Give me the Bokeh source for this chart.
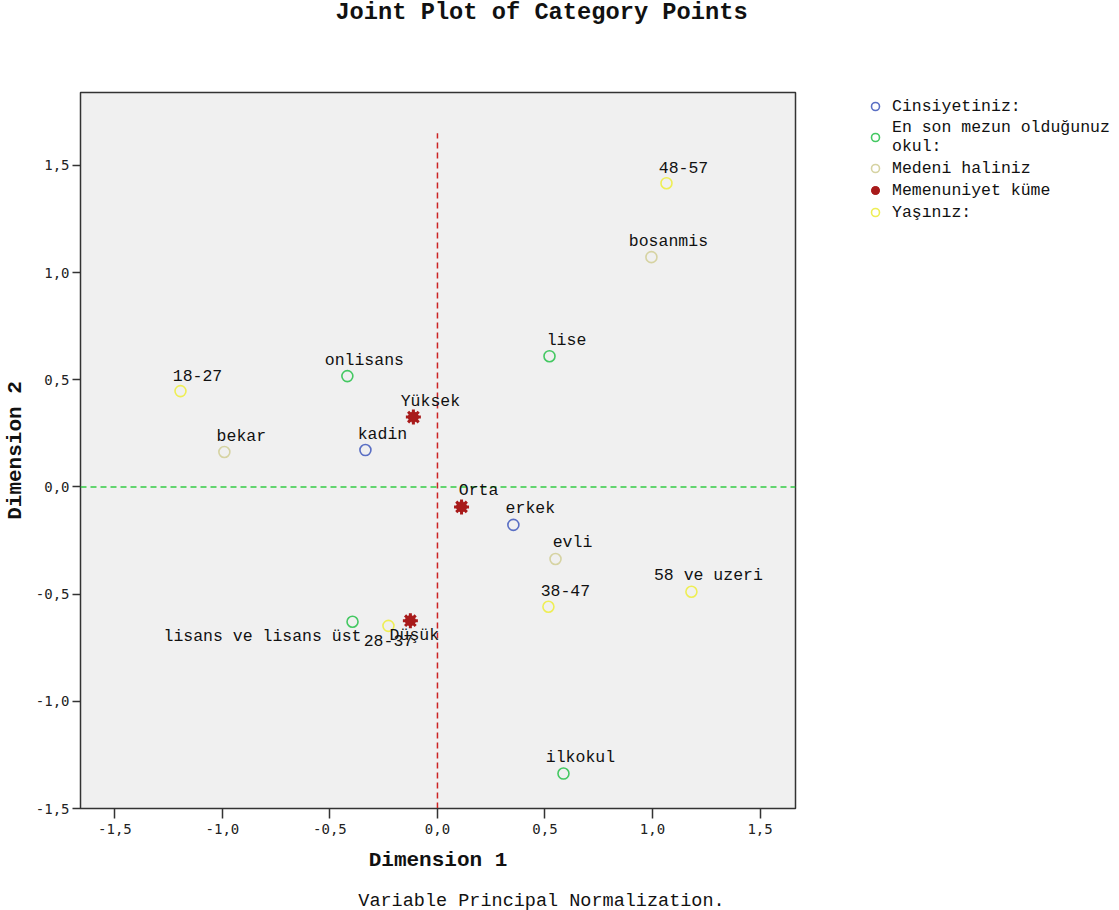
from bokeh.plotting import figure
from bokeh.models import (FixedTicker, CustomJSTickFormatter, Label, Legend, LegendItem,
                          Span, ColumnDataSource, Div)
from bokeh.layouts import column
from bokeh.embed import file_html
from bokeh.resources import INLINE

# ---- data ----
groups = ["Cinsiyetiniz:", "En son mezun olduğunuz\nokul:", "Medeni haliniz",
          "Memenuniyet küme", "Yaşınız:"]

cins_labels = ["kadin", "erkek"]
cins_x = [-0.335, 0.353]
cins_y = [0.172, -0.177]

okul_labels = ["onlisans", "lise", "lisans ve lisans üst", "ilkokul"]
okul_x = [-0.419, 0.521, -0.395, 0.586]
okul_y = [0.517, 0.610, -0.629, -1.337]

medeni_labels = ["bekar", "bosanmis", "evli"]
medeni_x = [-0.991, 0.995, 0.549]
medeni_y = [0.163, 1.072, -0.336]

kume_labels = ["Yüksek", "Orta", "Düşük"]
kume_x = [-0.112, 0.112, -0.126]
kume_y = [0.326, -0.093, -0.624]

yas_labels = ["18-27", "48-57", "38-47", "58 ve uzeri", "28-37"]
yas_x = [-1.195, 1.065, 0.516, 1.181, -0.228]
yas_y = [0.447, 1.417, -0.559, -0.489, -0.648]

ticks = [-1.5, -1.0, -0.5, 0.0, 0.5, 1.0, 1.5]

# ---- styles ----
FONT = "Liberation Mono"
colors = ["#5a6fc4", "#44c862", "#d6d3a2", "#a81a1a", "#eeee55"]
# label placement: (x_offset px, y_offset px, align)
default_place = (17, 16, "center")
special = {
    "lisans ve lisans üst": (9, -15, "right"),
    "28-37": (0, -15, "center"),
    "Düşük": (4, -15, "center"),
}

p = figure(output_backend="svg", toolbar_location=None,
           frame_width=715, frame_height=716,
           min_border_left=74, min_border_top=66, min_border_bottom=78,
           min_border_right=319,
           x_range=(-1.66, 1.665), y_range=(-1.5, 1.84),
           background_fill_color="#f0f0f0", border_fill_color="white",
           outline_line_color="#333333", outline_line_width=1.5)
p.grid.visible = False

fmt = CustomJSTickFormatter(code="return tick.toFixed(1).replace('.', ',');")
for ax in (p.xaxis[0], p.yaxis[0]):
    ax.ticker = FixedTicker(ticks=ticks)
    ax.formatter = fmt
    ax.minor_tick_line_color = None
    ax.major_label_text_font = "DejaVu Sans Mono"
    ax.major_label_text_font_size = "14px"
    ax.major_label_text_color = "#222222"
    ax.axis_line_color = "#333333"
    ax.major_tick_line_color = "#333333"
    ax.major_tick_line_width = 1.5
    ax.axis_label_text_font = FONT
    ax.axis_label_text_font_style = "bold"
    ax.axis_label_text_font_size = "21px"
    ax.axis_label_text_color = "#111111"

p.xaxis.major_tick_out = 10
p.xaxis.major_tick_in = 0
p.xaxis.major_label_standoff = 5
p.xaxis.axis_label = "Dimension 1"
p.xaxis.axis_label_standoff = 12
p.yaxis.major_tick_out = 8
p.yaxis.major_tick_in = 0
p.yaxis.major_label_standoff = 3
p.yaxis.axis_label = "Dimension 2"
p.yaxis.axis_label_standoff = 6

# reference lines
p.add_layout(Span(location=0, dimension="width", line_color="#33cc44",
                  line_dash="6 4", line_width=1.5))
p.segment(x0=[0], y0=[-1.5], x1=[0], y1=[1.65], line_color="#cc2222",
          line_dash="6 4", line_width=1.5)

sets = [(cins_labels, cins_x, cins_y), (okul_labels, okul_x, okul_y),
        (medeni_labels, medeni_x, medeni_y), (kume_labels, kume_x, kume_y),
        (yas_labels, yas_x, yas_y)]

items = []
for i, (labs, xs, ys) in enumerate(sets):
    c = colors[i]
    src = ColumnDataSource(dict(x=xs, y=ys))
    if i == 3:
        r1 = p.scatter("x", "y", source=src, marker="circle", size=10,
                       fill_color=c, line_color=c)
        r2 = p.scatter("x", "y", source=src, marker="asterisk", size=15,
                       line_color=c, line_width=3)
        rs = [r1, r2]
    else:
        r = p.scatter("x", "y", source=src, marker="circle", size=11,
                      fill_color=None, line_color=c, line_width=1.6)
        rs = [r]
    items.append(LegendItem(label=groups[i], renderers=rs))

    for lab, x, y in zip(labs, xs, ys):
        xo, yo, al = special.get(lab, default_place)
        p.add_layout(Label(x=x, y=y, text=lab, x_offset=xo, y_offset=yo,
                           text_align=al, text_baseline="middle",
                           text_font=FONT, text_font_size="16.5px",
                           text_color="#111111"))

legend = Legend(items=items, location=(70, 586),
                label_text_font=FONT, label_text_font_size="16.5px",
                label_text_color="#111111", label_text_line_height=0.8,
                border_line_color=None, background_fill_alpha=0,
                glyph_width=20, glyph_height=20, label_standoff=7,
                spacing=2, padding=0, margin=0, label_height=16)
p.add_layout(legend, "right")

title = Div(text="Joint Plot of Category Points", width=1073, height=16,
            styles={"text-align": "center", "font-family": FONT,
                    "font-weight": "bold", "font-size": "23.7px",
                    "line-height": "16px", "color": "#111111"})
footer = Div(text="Variable Principal Normalization.", width=1073, height=21,
             styles={"text-align": "center", "font-family": FONT,
                     "font-size": "18.5px", "line-height": "21px",
                     "color": "#111111"})

layout = column(title, p, footer, spacing=0)
open("out.html", "w").write(file_html(layout, INLINE))
